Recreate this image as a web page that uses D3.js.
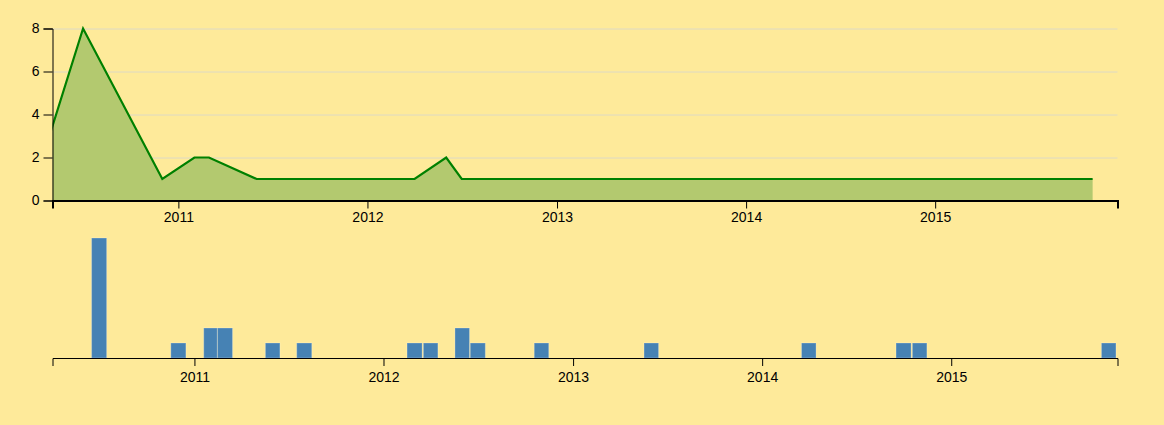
<!DOCTYPE html>
<html>
<head>
<meta charset="utf-8">
<script src="https://cdn.jsdelivr.net/npm/d3@7"></script>
<style>
  html, body { margin: 0; padding: 0; background: #feea9a; }
  svg { display: block; font-family: "Liberation Sans", Arial, sans-serif; }
  .axis text { font-size: 14px; fill: #000; }
  .axis path, .axis line { stroke: #000; }
  .grid line { stroke: #d3d3d3; stroke-opacity: 0.75; }
  .grid path { display: none; }
</style>
</head>
<body>
<script>
// Monthly counts (month start dates)
const months = ["2010-04-01","2010-07-01","2010-12-01","2011-02-01","2011-03-01","2011-06-01",
  "2011-08-01","2012-03-01","2012-04-01","2012-06-01","2012-07-01","2012-11-01",
  "2013-06-01","2014-04-01","2014-10-01","2014-11-01","2015-11-01"];
const counts = [1, 8, 1, 2, 2, 1, 1, 1, 1, 2, 1, 1, 1, 1, 1, 1, 1];
const focusDomain = ["2010-05-03", "2015-12-19"];
const contextDomain = ["2010-04-02", "2015-11-18"];
const yTicks = [0, 2, 4, 6, 8];
const yMax = 8;

const parse = d3.utcParse("%Y-%m-%d");
const data = months.map((m, i) => ({ date: parse(m), value: counts[i] }));

const W = 1164, H = 425;
const svg = d3.select("body").append("svg").attr("width", W).attr("height", H);
svg.append("rect").attr("width", W).attr("height", H).attr("fill", "#feea9a");

const x = d3.scaleUtc().domain(focusDomain.map(parse)).range([52.5, 1117.5]);
const y = d3.scaleLinear().domain([0, yMax]).range([200.5, 28.5]);
const x2 = d3.scaleUtc().domain(contextDomain.map(parse)).range([52.5, 1117.5]);
const y2 = d3.scaleLinear().domain([0, yMax]).range([358, 238]);

svg.append("clipPath").attr("id", "clip")
  .append("rect").attr("x", 52.5).attr("y", 0).attr("width", 1065).attr("height", 210);

// grid
svg.append("g").attr("class", "grid").attr("transform", "translate(52.5,0)")
  .call(d3.axisLeft(y).tickValues(yTicks.slice(1)).tickSize(-1065).tickFormat(""));

// focus area + line
const area = d3.area().x(d => x(d.date)).y0(y(0)).y1(d => y(d.value));
const line = d3.line().x(d => x(d.date)).y(d => y(d.value));
const focus = svg.append("g").attr("clip-path", "url(#clip)");
focus.append("path").datum(data).attr("d", area).attr("fill", "#b3c96f");
focus.append("path").datum(data).attr("d", line)
  .attr("fill", "none").attr("stroke", "#008000").attr("stroke-width", 2.2).attr("stroke-linejoin", "miter");

// focus axes
const gx = svg.append("g").attr("class", "axis").attr("transform", "translate(0,200.5)")
  .call(d3.axisBottom(x).ticks(d3.utcYear.every(1)).tickFormat(d3.utcFormat("%Y")).tickSize(8).tickPadding(4));
gx.select(".domain").attr("stroke-width", 2);
svg.append("g").attr("class", "axis").attr("transform", "translate(52.5,0)")
  .call(d3.axisLeft(y).tickValues(yTicks).tickSize(9).tickPadding(4));

// context bars
const bars = data.filter(d => d.date >= x2.domain()[0] && d.date <= x2.domain()[1]);
svg.append("g").selectAll("rect").data(bars).join("rect")
  .attr("x", d => {
    const w = x2(d3.utcMonth.offset(d.date, 1)) - x2(d.date) - 1;
    return x2(d.date) - w / 2;
  })
  .attr("width", d => x2(d3.utcMonth.offset(d.date, 1)) - x2(d.date) - 1)
  .attr("y", d => y2(d.value))
  .attr("height", d => y2(0) - y2(d.value))
  .attr("fill", "steelblue")
  .attr("stroke", "#fff").attr("stroke-opacity", 0.25).attr("stroke-width", 1);

svg.append("g").attr("class", "axis").attr("transform", "translate(0,358)")
  .call(d3.axisBottom(x2).ticks(d3.utcYear.every(1)).tickFormat(d3.utcFormat("%Y")).tickSize(8).tickPadding(6));
</script>
</body>
</html>
